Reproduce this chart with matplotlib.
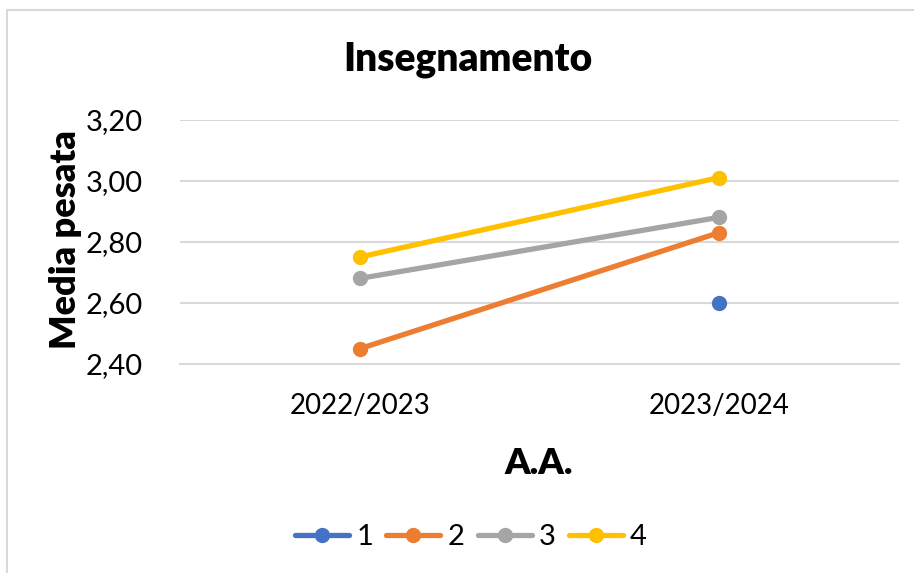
import matplotlib
matplotlib.use("Agg")
import matplotlib.pyplot as plt
import numpy as np
from matplotlib.patches import Rectangle

plt.rcParams['font.family'] = ['Lato', 'DejaVu Sans']

categories = ["2022/2023", "2023/2024"]
series_names = ["1", "2", "3", "4"]
s1 = [np.nan, 2.60]
s2 = [2.45, 2.83]
s3 = [2.68, 2.88]
s4 = [2.75, 3.01]
yticks = [2.40, 2.60, 2.80, 3.00, 3.20]
colors = ["#4472C4", "#ED7D31", "#A5A5A5", "#FFC000"]

fig = plt.figure(figsize=(9.14, 5.73), dpi=100)
ax = fig.add_axes([180/914, 1-364/573, (899-180)/914, (364-119.5)/573])

x = np.arange(len(categories))
for vals, name, c in zip([s1, s2, s3, s4], series_names, colors):
    ax.plot(x, vals, color=c, lw=3.8, marker='o', ms=10, label=name,
            solid_capstyle='round', zorder=3)

ax.set_xlim(-0.5, 1.5)
ax.set_ylim(2.40, 3.20)
ax.set_yticks(yticks)
ax.set_yticklabels([f"{v:.2f}".replace('.', ',') for v in yticks])
ax.set_xticks(x)
ax.set_xticklabels(categories)
ax.tick_params(axis='y', length=0, labelsize=21, colors='black', pad=27)
ax.tick_params(axis='x', length=0, labelsize=20, colors='black', pad=21)
ax.grid(axis='y', color='#D9D9D9', lw=1.5)
for s in ax.spines.values():
    s.set_visible(False)
ax.spines['bottom'].set_visible(True)
ax.spines['bottom'].set_color('#D9D9D9')
ax.spines['bottom'].set_linewidth(1.5)

fig.text(468/914, 1-60/573, "Insegnamento", ha='center', va='center',
         fontsize=28, fontweight='heavy')
fig.text(65/914, 1-240/573, "Media pesata", ha='center', va='center',
         rotation=90, fontsize=26, fontweight='heavy')
fig.text(539/914, 1-463/573, "A.A.", ha='center', va='center',
         fontsize=26, fontweight='heavy')

leg = fig.legend(loc='center', bbox_to_anchor=(471/914, 1-537/573), ncol=4,
                 frameon=False, fontsize=21, handlelength=1.85,
                 handletextpad=0.25, columnspacing=0.45, markerscale=1.0)
for h in leg.legend_handles:
    h.set_solid_capstyle('round')

fig.patches.append(Rectangle((7/914, -0.1), 1.2, 1-10/573+0.1,
                             transform=fig.transFigure, fill=False,
                             edgecolor='#D9D9D9', lw=1.5))

fig.savefig("out.png", dpi=100)
